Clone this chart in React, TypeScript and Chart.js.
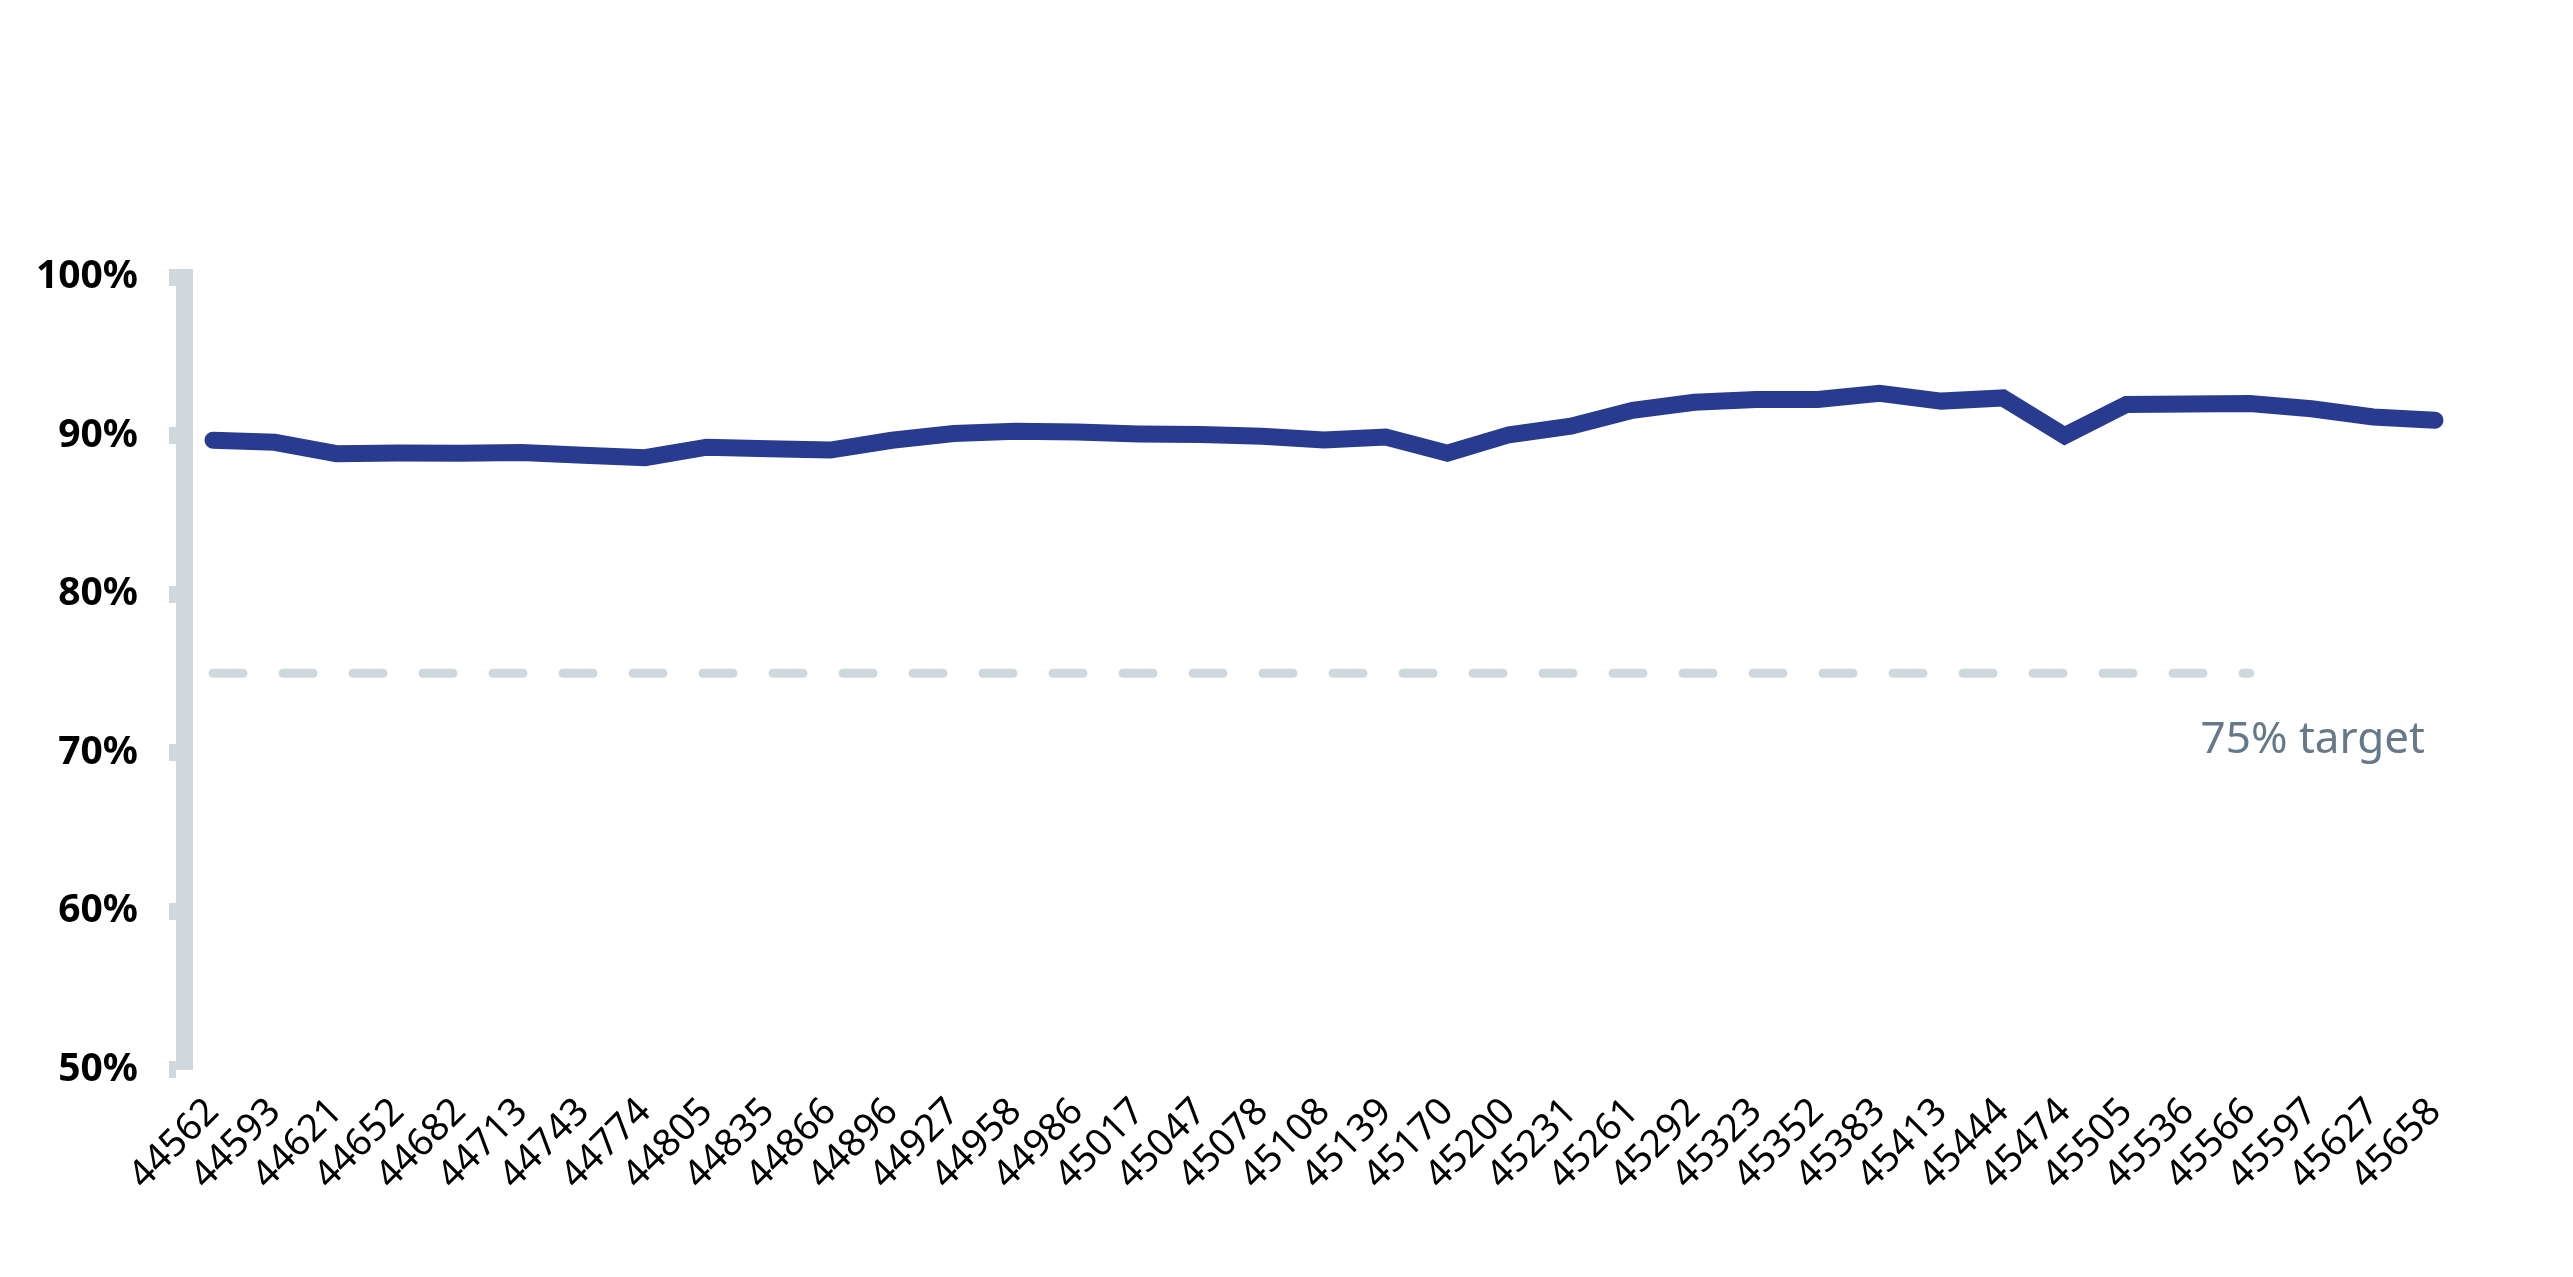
import React, { useEffect, useRef } from "react";
import { Chart, registerables } from "chart.js";

Chart.register(...registerables);

const X_LABELS: string[] = [
  "44562", "44593", "44621", "44652", "44682", "44713", "44743", "44774", "44805",
  "44835", "44866", "44896", "44927", "44958", "44986", "45017", "45047", "45078",
  "45108", "45139", "45170", "45200", "45231", "45261", "45292", "45323", "45352",
  "45383", "45413", "45444", "45474", "45505", "45536", "45566", "45597", "45627",
  "45658",
];

const RATE: number[] = [
  89.7, 89.57, 88.85, 88.9, 88.88, 88.92, 88.75, 88.6, 89.26,
  89.17, 89.08, 89.7, 90.13, 90.27, 90.22, 90.1, 90.06, 89.95,
  89.72, 89.9, 88.88, 90.05, 90.59, 91.59, 92.1, 92.27, 92.27,
  92.66, 92.17, 92.37, 89.99, 91.96, 91.98, 92.02, 91.69, 91.17,
  90.96,
];

const TARGET_VALUE = 75;
const TARGET_END_LABEL = "45566";
const TARGET_TEXT = "75% target";

const Y_MIN = 50;
const Y_MAX = 100;
const Y_STEP = 10;

const LINE_COLOR = "#293B8F";
const AXIS_COLOR = "#CFD8DC";
const TARGET_TEXT_COLOR = "#66798A";
const FONT = '"Noto Sans", "Open Sans", sans-serif';

export default function App() {
  const canvasRef = useRef<HTMLCanvasElement | null>(null);

  useEffect(() => {
    const canvas = canvasRef.current;
    if (!canvas) return;

    const targetEnd = X_LABELS.indexOf(TARGET_END_LABEL);
    const rateData = RATE.map((v, i) => ({ x: i, y: v }));
    const targetData = X_LABELS.slice(0, targetEnd + 1).map((_, i) => ({ x: i, y: TARGET_VALUE }));

    const targetLabelPlugin = {
      id: "targetLabel",
      afterDatasetsDraw(chart: any) {
        const { ctx, scales } = chart;
        const xs = scales.x;
        const ys = scales.y;
        ctx.save();
        ctx.font = `44px ${FONT}`;
        ctx.fillStyle = TARGET_TEXT_COLOR;
        ctx.textAlign = "right";
        ctx.textBaseline = "alphabetic";
        ctx.fillText(
          TARGET_TEXT,
          xs.getPixelForValue(X_LABELS.length - 1) - 10,
          ys.getPixelForValue(TARGET_VALUE) + 80
        );
        ctx.restore();
      },
    };

    const chart = new Chart(canvas, {
      type: "line",
      data: {
        datasets: [
          {
            label: "Rate",
            data: rateData,
            borderColor: LINE_COLOR,
            backgroundColor: LINE_COLOR,
            borderWidth: 17,
            borderCapStyle: "round",
            borderJoinStyle: "miter",
            pointRadius: 0,
            pointHoverRadius: 0,
            tension: 0,
            fill: false,
            clip: false,
          },
          {
            label: "Target",
            data: targetData,
            borderColor: AXIS_COLOR,
            borderWidth: 9,
            borderDash: [30, 40],
            borderCapStyle: "round",
            pointRadius: 0,
            pointHoverRadius: 0,
            tension: 0,
            fill: false,
            clip: false,
          },
        ],
      },
      options: {
        animation: false,
        responsive: false,
        devicePixelRatio: 1,
        maintainAspectRatio: false,
        layout: { padding: { top: 269, left: 0, right: 101, bottom: 0 } },
        plugins: {
          legend: { display: false },
          tooltip: { enabled: false },
          title: { display: false },
        },
        scales: {
          x: {
            type: "linear",
            min: -0.47,
            max: X_LABELS.length - 1 + 0.47,
            bounds: "data",
            grid: { display: false },
            border: { display: false },
            afterBuildTicks: (scale: any) => {
              scale.ticks = X_LABELS.map((_, i) => ({ value: i }));
            },
            afterFit: (scale: any) => {
              scale.height = 199.5;
            },
            ticks: {
              autoSkip: false,
              minRotation: 45,
              maxRotation: 45,
              padding: 12,
              color: "#000000",
              font: { family: FONT, size: 38 },
              callback: (value: any) => X_LABELS[Math.round(Number(value))] ?? "",
            },
          },
          y: {
            min: Y_MIN,
            max: Y_MAX,
            afterFit: (scale: any) => {
              scale.width = 176;
            },
            grid: {
              drawOnChartArea: false,
              drawTicks: true,
              tickLength: 15,
              tickWidth: 17,
              tickColor: AXIS_COLOR,
            },
            border: { display: true, color: AXIS_COLOR, width: 17 },
            ticks: {
              stepSize: Y_STEP,
              padding: 31,
              color: "#000000",
              font: { family: FONT, size: 39, weight: "bold" },
              callback: (value: any) => `${value}%`,
            },
          },
        },
      },
      plugins: [targetLabelPlugin],
    } as any);

    return () => {
      chart.destroy();
    };
  }, []);

  return (
    <div style={{ width: 2557, height: 1261 }}>
      <canvas ref={canvasRef} width={2557} height={1261} style={{ width: 2557, height: 1261, display: "block" }} />
    </div>
  );
}
